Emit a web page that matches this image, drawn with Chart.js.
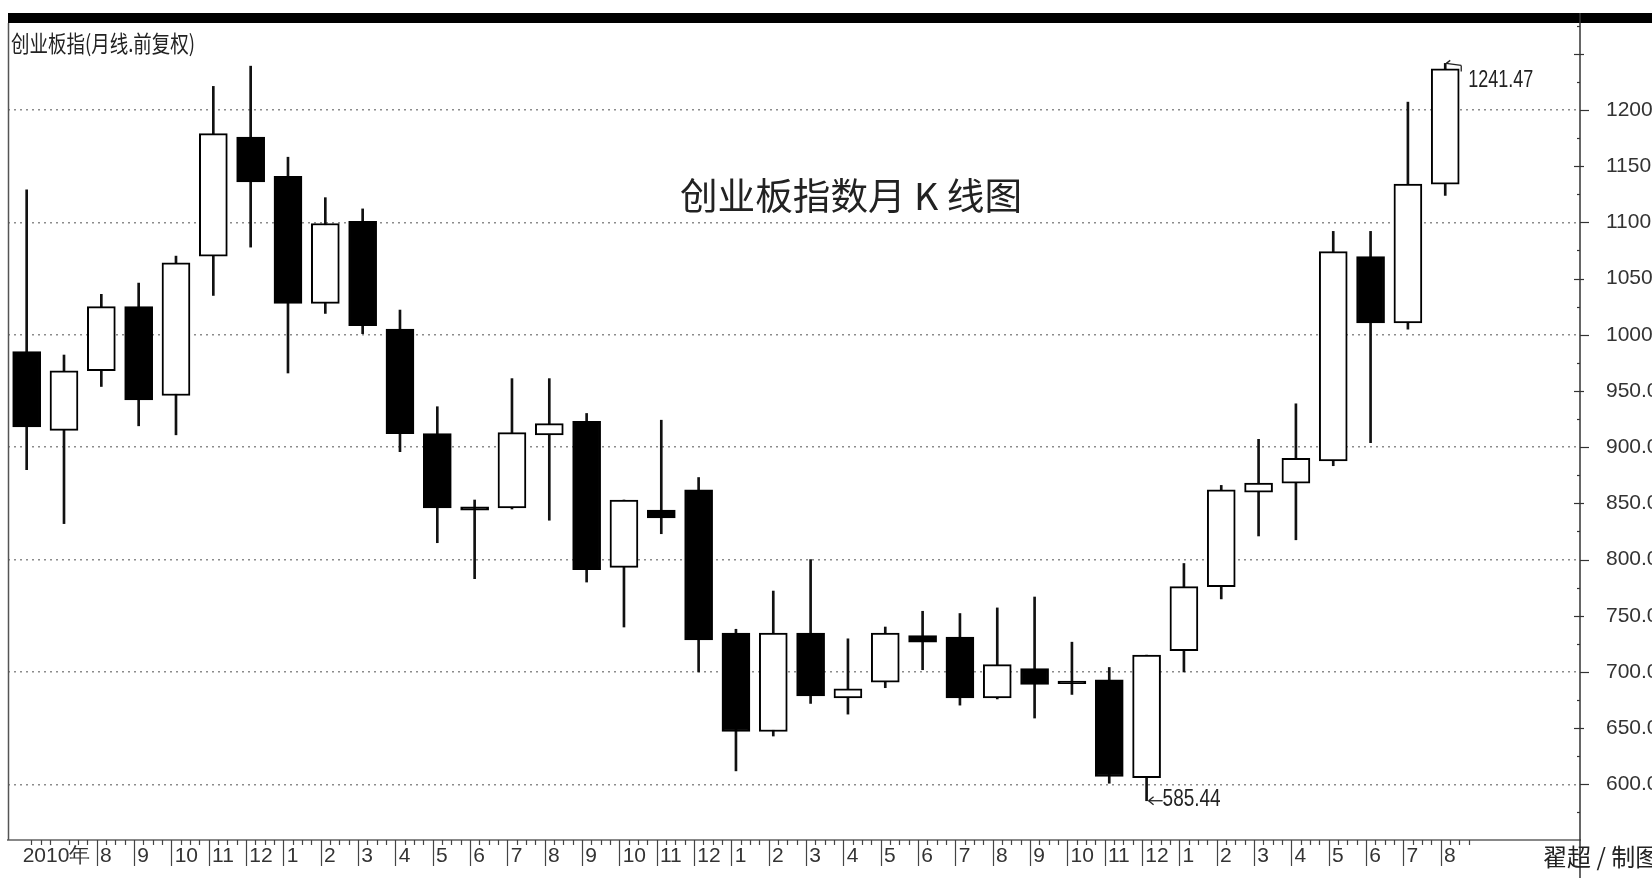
<!DOCTYPE html>
<html>
<head>
<meta charset="utf-8">
<script src="https://cdn.jsdelivr.net/npm/chart.js@4.4.1/dist/chart.umd.min.js"></script>
<style>
html, body { margin: 0; padding: 0; background: #fff; overflow: hidden; }
</style>
</head>
<body>
<canvas id="myChart" width="1652" height="878"></canvas>
<script>
// 2010-06 .. 2013-08 monthly candles
const monthLabels = ['2010年', '', '8', '9', '10', '11', '12',
    '1', '2', '3', '4', '5', '6', '7', '8', '9', '10', '11', '12',
    '1', '2', '3', '4', '5', '6', '7', '8', '9', '10', '11', '12',
    '1', '2', '3', '4', '5', '6', '7', '8'];
const openData = [985, 915, 968, 1025, 946, 1070, 1176, 1141, 1028, 1101,
    1005, 912, 847, 846, 911, 923, 793, 844, 862,
    734.5, 647, 734.5, 677, 691, 732.4, 731, 677, 703, 692, 693, 606,
    719, 776, 860, 868, 887.8, 1069.5, 1010.5, 1134];
const highData = [1129, 982, 1036, 1046, 1070, 1221, 1239, 1158, 1122, 1112,
    1022, 936, 853, 961, 961, 930, 853, 924, 873,
    738, 772, 800, 729.5, 740, 754, 752, 757, 766.7, 726.5, 704, 715,
    796.5, 866, 907, 938.6, 1092, 1092, 1207, 1241.47];
const lowData = [880, 832, 954, 919, 911, 1035, 1078, 966, 1019, 1001,
    896, 815, 783, 845, 835, 780, 740, 823, 700,
    612, 643, 672, 662.5, 686, 702, 670.5, 676, 659, 680, 601, 585.44,
    700, 765, 821, 817.6, 883.5, 904, 1005, 1124];
const closeData = [918, 968, 1025, 942, 1064, 1179, 1136, 1028, 1099, 1008,
    912, 846, 844, 913, 921, 791, 853, 837, 728.5,
    647, 734.5, 678.6, 685, 734.5, 726.5, 677, 706.5, 689, 689.5, 607, 715,
    776, 862, 868, 890, 1074, 1010.5, 1134, 1236.6];
const yTickValues = [600, 650, 700, 750, 800, 850, 900, 950, 1000, 1050, 1100, 1150, 1200];

const numFont = "'Liberation Sans', sans-serif";
const cjkFont = "'Noto Sans CJK SC', sans-serif";

function fitText(ctx, txt, x, y, w) {
    const m = ctx.measureText(txt).width;
    ctx.save();
    ctx.translate(x, y);
    ctx.scale(w / m, 1);
    ctx.fillText(txt, 0, 0);
    ctx.restore();
}

function seg(ctx, x1, y1, x2, y2) {
    ctx.beginPath();
    ctx.moveTo(x1, y1);
    ctx.lineTo(x2, y2);
    ctx.stroke();
}

const decor = {
    id: 'decor',
    afterDraw(chart) {
        const { ctx, chartArea: a, scales: { x, y } } = chart;
        ctx.save();
        // top black band
        ctx.fillStyle = '#000';
        ctx.fillRect(a.left, 13, chart.width - a.left, 10);
        // frame lines
        ctx.strokeStyle = '#555';
        ctx.lineWidth = 1.5;
        seg(ctx, a.left + 0.5, a.top, a.left + 0.5, a.bottom);
        ctx.strokeStyle = '#333';
        seg(ctx, a.right, 13, a.right, chart.height);

        // price axis tick marks
        ctx.lineWidth = 1.2;
        for (let v = 575; v <= 1275; v += 25) {
            const py = Math.round(y.getPixelForValue(v)) + 0.5;
            if (v % 100 === 0) seg(ctx, a.right, py, a.right + 9, py);
            else if (v % 50 === 0) seg(ctx, a.right - 6, py, a.right + 4, py);
            else seg(ctx, a.right - 3, py, a.right, py);
        }

        // month marks on time axis
        ctx.strokeStyle = '#444';
        monthLabels.forEach((m, i) => {
            const px = Math.round(x.getPixelForValue(i - 0.125)) + 0.5;
            if (i > 0 && m) seg(ctx, px, a.bottom, px, a.bottom + 26);
            for (let k = 1; k <= 3; k++) {
                const mx = Math.round(x.getPixelForValue(i - 0.125 + k * 0.25)) + 0.5;
                seg(ctx, mx, a.bottom, mx, a.bottom + 5);
            }
        });

        // texts
        ctx.fillStyle = '#222';
        ctx.textBaseline = 'middle';
        ctx.textAlign = 'left';
        ctx.font = '23px ' + cjkFont;
        fitText(ctx, '创业板指(月线.前复权)', 11, 43, 184);
        ctx.font = '37px ' + cjkFont;
        fitText(ctx, '创业板指数月 K 线图', 680, 196, 342);
        ctx.font = '24px ' + cjkFont;
        ctx.fillText('翟超 / 制图', 1543, 857);

        // high marker
        const last = openData.length - 1;
        const hx = x.getPixelForValue(last);
        const hy = y.getPixelForValue(highData[last]);
        ctx.strokeStyle = '#222';
        ctx.lineWidth = 1.3;
        seg(ctx, hx + 1, hy, hx + 16, hy + 2);
        seg(ctx, hx + 1, hy, hx + 5, hy - 3);
        seg(ctx, hx + 16, hy + 2, hx + 16, hy + 8);
        ctx.font = '24px ' + numFont;
        fitText(ctx, highData[last].toFixed(2), hx + 23, hy + 17, 65);

        // low marker
        let li = 0;
        lowData.forEach((v, i) => { if (v < lowData[li]) li = i; });
        const lx = x.getPixelForValue(li) + 2;
        const ly = y.getPixelForValue(lowData[li]);
        seg(ctx, lx, ly, lx + 14, ly);
        seg(ctx, lx, ly, lx + 5, ly - 4);
        seg(ctx, lx, ly, lx + 5, ly + 4);
        fitText(ctx, lowData[li].toFixed(2), lx + 14, ly - 1, 58);
        ctx.restore();
    }
};

const bodyColors = openData.map((o, i) => closeData[i] >= o ? '#ffffff' : '#000000');

const config = {
    type: 'bar',
    data: {
        datasets: [{
            label: 'body',
            data: openData.map((o, i) => ({ x: i, y: [o, closeData[i]] })),
            backgroundColor: bodyColors,
            borderColor: '#000',
            borderWidth: 2,
            borderSkipped: false,
            barThickness: 28,
            grouped: false,
            order: 0
        }, {
            label: 'wick',
            data: lowData.map((l, i) => ({ x: i, y: [l, highData[i]] })),
            backgroundColor: '#111',
            borderWidth: 0,
            barThickness: 2,
            grouped: false,
            order: 1
        }]
    },
    options: {
        responsive: false,
        animation: false,
        layout: { padding: { left: 8, top: 23, right: 0, bottom: 0 } },
        plugins: {
            legend: { display: false },
            tooltip: { enabled: false }
        },
        scales: {
            x: {
                type: 'linear',
                min: -0.5,
                max: 41.61,
                offset: false,
                grid: { display: false, drawTicks: false },
                border: { display: true, color: '#888', width: 2 },
                ticks: {
                    autoSkip: false,
                    maxRotation: 0,
                    align: 'start',
                    padding: 4,
                    color: '#333',
                    font: { family: numFont, size: 21 },
                    callback: (v) => monthLabels[Math.round(v)]
                },
                afterBuildTicks: (s) => {
                    s.ticks = monthLabels.map((m, i) => ({ value: i === 0 ? -0.107 : i - 0.035 }));
                },
                afterFit: (s) => {
                    s.height = 38;
                    s.paddingLeft = 0;
                    s.paddingRight = 0;
                }
            },
            y: {
                position: 'right',
                min: 550.5,
                max: 1277.4,
                grid: {
                    drawTicks: false,
                    lineWidth: 1.5,
                    color: (c) => (c.tick && c.tick.value % 100 === 0) ? '#8c8c8c' : 'rgba(0,0,0,0)'
                },
                border: { display: false, dash: [2, 4] },
                ticks: {
                    padding: 26,
                    color: '#333',
                    font: { family: numFont, size: 21 },
                    callback: (v) => Number(v).toFixed(2)
                },
                afterBuildTicks: (s) => {
                    s.ticks = yTickValues.map(v => ({ value: v }));
                },
                afterFit: (s) => {
                    s.width = 72;
                    s.paddingTop = 0;
                    s.paddingBottom = 0;
                }
            }
        }
    },
    plugins: [decor]
};

const myChart = new Chart(document.getElementById('myChart'), config);
</script>
</body>
</html>
